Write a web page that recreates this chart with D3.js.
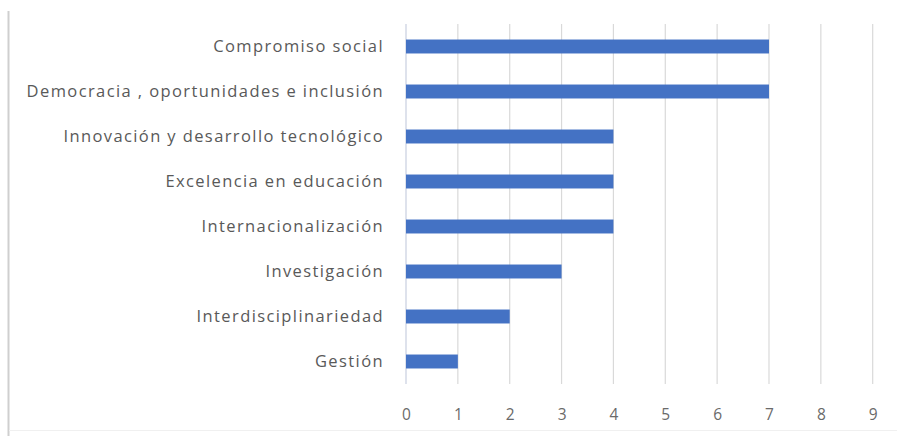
<!DOCTYPE html>
<html><head><meta charset="utf-8">
<script src="https://cdn.jsdelivr.net/npm/d3@7"></script>
<style>body{margin:0;background:#fff;} svg{display:block;}</style>
</head><body>
<svg id="c" width="897" height="436"></svg>
<script>
const categories = ["Compromiso social","Democracia , oportunidades e inclusión","Innovación y desarrollo tecnológico","Excelencia en educación","Internacionalización","Investigación","Interdisciplinariedad","Gestión"];
const values = [7,7,4,4,4,3,2,1];
const xTicks = [0,1,2,3,4,5,6,7,8,9];

const svg = d3.select("#c");
const font = "'Open Sans', sans-serif";
const x = d3.scaleLinear().domain([0,9]).range([406,872.7]);
const y = d3.scaleBand().domain(categories).range([24,384]).paddingInner(0.69).paddingOuter(0.345);

// frame
svg.append("line").attr("x1",8.5).attr("x2",8.5).attr("y1",11).attr("y2",436).attr("stroke","#cfcfcf").attr("stroke-width",2);
svg.append("line").attr("x1",9).attr("x2",897).attr("y1",430.5).attr("y2",430.5).attr("stroke","#f0f0f0");

// gridlines
svg.append("g").selectAll("line").data(xTicks).join("line")
  .attr("x1",d=>x(d)).attr("x2",d=>x(d)).attr("y1",24).attr("y2",384)
  .attr("stroke",d=>d===0?"#c8cfe0":"#d9d9d9").attr("stroke-width",1.2);

// bars
svg.append("g").selectAll("rect").data(values).join("rect")
  .attr("x",x(0)).attr("y",(d,i)=>y(categories[i]))
  .attr("width",d=>x(d)-x(0)).attr("height",y.bandwidth())
  .attr("fill","#4472c4");

// x axis
const xa = svg.append("g").attr("transform","translate(0,384)")
  .call(d3.axisBottom(x).tickValues(xTicks).tickSize(0).tickPadding(25).tickFormat(d3.format("d")));
xa.select(".domain").remove();
xa.selectAll("text").attr("fill","#6a6a6a").style("font-family",font).style("font-size","15.5px");

// y axis
const ya = svg.append("g").attr("transform","translate(406,0)")
  .call(d3.axisLeft(y).tickSize(0).tickPadding(22));
ya.select(".domain").remove();
ya.selectAll("text").attr("fill","#595959").style("font-family",font).style("font-size","16.5px").style("letter-spacing","1.4px");
</script>
</body></html>
